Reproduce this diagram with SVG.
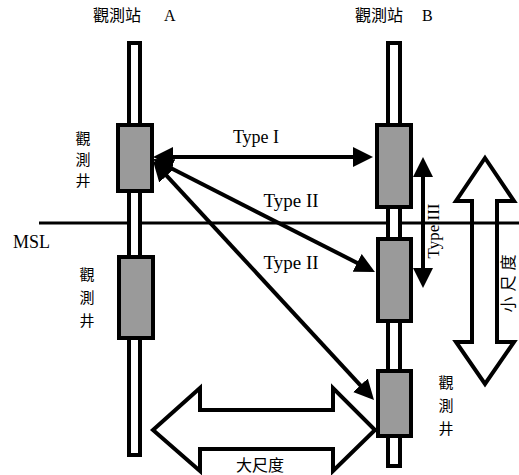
<svg xmlns="http://www.w3.org/2000/svg" width="519" height="475" viewBox="0 0 519 475">
<style>
.pipe{fill:#fff;stroke:#000;stroke-width:4}
.well{fill:#9a9a9a;stroke:#000;stroke-width:4}
.cjk{font-family:"Noto Sans CJK TC","Noto Sans CJK SC",sans-serif;fill:#000}
.lat{font-family:"Liberation Serif",serif;fill:#000}
.conn{stroke:#000;stroke-width:4;fill:none}
.hollow{fill:none;stroke:#000;stroke-width:4;stroke-linejoin:miter}
</style>
<defs>
<marker id="ah" viewBox="0 0 20 20" markerWidth="20" markerHeight="20" refX="15" refY="10" orient="auto-start-reverse" markerUnits="userSpaceOnUse">
<path d="M0,0 L20,10 L0,20 z" fill="#000"/>
</marker>
</defs>
<rect width="519" height="475" fill="#fff"/>
<g id="msl">
<line x1="39" y1="223" x2="519" y2="223" stroke="#000" stroke-width="3"/>
<text class="lat" x="13" y="248" font-size="18">MSL</text>
</g>
<g id="station-a">
<text class="cjk" x="93" y="21" font-size="16">觀測站</text>
<text class="lat" x="164" y="21" font-size="16">A</text>
<rect class="pipe" x="129" y="43" width="11" height="412"/>
</g>
<g id="station-b">
<text class="cjk" x="355" y="21" font-size="16">觀測站</text>
<text class="lat" x="422" y="21" font-size="16">B</text>
<rect class="pipe" x="388" y="43" width="12" height="423"/>
</g>
<g id="well-a1">
<rect class="well" x="118" y="125" width="34" height="66"/>
<text class="cjk" font-size="15" text-anchor="middle"><tspan x="83" y="144">觀</tspan><tspan x="83" y="165">測</tspan><tspan x="83" y="186">井</tspan></text>
</g>
<g id="well-a2">
<rect class="well" x="119" y="257" width="34" height="81"/>
<text class="cjk" font-size="15" text-anchor="middle"><tspan x="87" y="280">觀</tspan><tspan x="87" y="303">測</tspan><tspan x="87" y="326">井</tspan></text>
</g>
<g id="well-b1">
<rect class="well" x="377" y="125" width="34" height="82"/>
</g>
<g id="well-b2">
<rect class="well" x="378" y="239" width="33" height="82"/>
</g>
<g id="well-b3">
<rect class="well" x="378" y="371" width="33" height="65"/>
<text class="cjk" font-size="15" text-anchor="middle"><tspan x="446" y="388">觀</tspan><tspan x="446" y="411">測</tspan><tspan x="446" y="434">井</tspan></text>
</g>
<g id="connectors">
<line class="conn" x1="158" y1="157" x2="368" y2="157" marker-start="url(#ah)" marker-end="url(#ah)"/>
<line class="conn" x1="157.5" y1="161.3" x2="370.5" y2="269.7" marker-start="url(#ah)" marker-end="url(#ah)"/>
<line class="conn" x1="156.4" y1="164.7" x2="370.6" y2="396.3" marker-start="url(#ah)" marker-end="url(#ah)"/>
<line class="conn" x1="423" y1="162" x2="423" y2="283" marker-start="url(#ah)" marker-end="url(#ah)"/>
<text class="lat" x="256" y="143" font-size="18" text-anchor="middle">Type I</text>
<text class="lat" x="291" y="207" font-size="19" text-anchor="middle">Type II</text>
<text class="lat" x="291" y="269" font-size="19" text-anchor="middle">Type II</text>
<text class="lat" transform="translate(439,231) rotate(-90)" font-size="17" text-anchor="middle">Type III</text>
</g>
<g id="scale-small">
<polygon class="hollow" points="485,158 514,201 497,201 497,342 514,342 485,384 456,342 472,342 472,201 456,201"/>
<text class="cjk" transform="translate(514,281) rotate(-90)" font-size="16" letter-spacing="5" text-anchor="middle">小尺度</text>
</g>
<g id="scale-large">
<polygon class="hollow" points="153,430 200,388 200,410 333,410 333,388 375,430 333,471 333,449 200,449 200,471"/>
<text class="cjk" x="260" y="471" font-size="16" text-anchor="middle">大尺度</text>
</g>
</svg>
